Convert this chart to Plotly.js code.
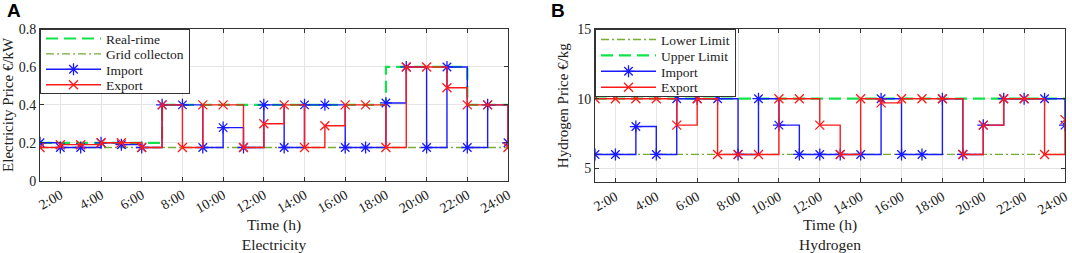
<!DOCTYPE html>
<html>
<head>
<meta charset="utf-8">
<script src="https://cdn.plot.ly/plotly-3.0.1.min.js"></script>
<style>
html,body{margin:0;padding:0;background:#fff;}
#chart{width:1072px;height:253px;}
</style>
</head>
<body>
<div id="chart"></div>
<script>
// ---- data ----
const hours = [1,2,3,4,5,6,7,8,9,10,11,12,13,14,15,16,17,18,19,20,21,22,23,24];
const tickHours = [2,4,6,8,10,12,14,16,18,20,22,24];
const tickLabels = ['2:00','4:00','6:00','8:00','10:00','12:00','14:00','16:00','18:00','20:00','22:00','24:00'];

// Electricity (A)
const elecRealTime = [0.2,0.2,0.2,0.2,0.2,0.2,0.4,0.4,0.4,0.4,0.4,0.4,0.4,0.4,0.4,0.4,0.4,0.6,0.6,0.6,0.6,0.4,0.4,0.4];
const elecGrid = [0.175,0.175,0.175,0.175,0.175,0.175,0.175,0.175,0.175,0.175,0.175,0.175,0.175,0.175,0.175,0.175,0.175,0.175,0.175,0.175,0.175,0.175,0.175,0.175];
const elecImport = [0.2,0.175,0.175,0.2,0.19,0.175,0.4,0.4,0.175,0.28,0.175,0.4,0.175,0.4,0.4,0.175,0.175,0.41,0.6,0.175,0.6,0.175,0.4,0.2];
const elecExport = [0.175,0.19,0.19,0.2,0.2,0.175,0.4,0.175,0.4,0.4,0.175,0.3,0.4,0.175,0.29,0.4,0.4,0.175,0.6,0.6,0.49,0.4,0.4,0.175];

// Hydrogen (B)
const h2Lower = [6,6,6,6,6,6,6,6,6,6,6,6,6,6,6,6,6,6,6,6,6,6,6,6];
const h2Upper = [10,10,10,10,10,10,10,10,10,10,10,10,10,10,10,10,10,10,10,10,10,10,10,10];
const h2Import = [6,6,8,6,10,10,10,6,10,8.1,6,6,6,6,10,6,6,10,6,8.1,10,10,10,8.1];
const h2Export = [10,10,10,10,8.1,10,6,6,6,10,10,8.1,6,10,9.7,10,10,10,6,8.1,10,10,6,8.5];

const legendA = ['Real-rime','Grid collecton','Import','Export'];
const legendB = ['Lower Limit','Upper Limit','Import','Export'];

// ---- styles ----
const cGreen = '#11e44a';
const cGreenDD = '#77ac30';
const cBlue = '#1a1aff';
const cRed = '#ff1a1a';
const W = 1072, H = 253;
const SERIF = 'Liberation Serif, Times New Roman, serif';

function dashed(x, y, name, xa, ya, lg){
  return {x, y, name, xaxis:xa, yaxis:ya, legend:lg, type:'scatter', mode:'lines',
    line:{shape:'hv', color:cGreen, width:2.2, dash:'12px,6px'}};
}
function dashdot(x, y, name, xa, ya, lg){
  return {x, y, name, xaxis:xa, yaxis:ya, legend:lg, type:'scatter', mode:'lines',
    line:{shape:'hv', color:cGreenDD, width:1.3, dash:'8px,3px,2px,3px'}};
}
function imp(x, y, name, xa, ya, lg){
  return {x, y, name, xaxis:xa, yaxis:ya, legend:lg, type:'scatter', mode:'lines+markers',
    line:{shape:'hv', color:cBlue, width:1.4},
    marker:{symbol:'asterisk-open', size:10, color:cBlue, line:{color:cBlue, width:1.3}}};
}
function exp(x, y, name, xa, ya, lg){
  return {x, y, name, xaxis:xa, yaxis:ya, legend:lg, type:'scatter', mode:'lines+markers',
    line:{shape:'hv', color:cRed, width:1.4},
    marker:{symbol:'x-thin-open', size:9, color:cRed, line:{color:cRed, width:1.3}}};
}

const data = [
  dashed(hours, elecRealTime, legendA[0], 'x', 'y', 'legend'),
  dashdot(hours, elecGrid, legendA[1], 'x', 'y', 'legend'),
  imp(hours, elecImport, legendA[2], 'x', 'y', 'legend'),
  exp(hours, elecExport, legendA[3], 'x', 'y', 'legend'),
  dashdot(hours, h2Lower, legendB[0], 'x2', 'y2', 'legend2'),
  dashed(hours, h2Upper, legendB[1], 'x2', 'y2', 'legend2'),
  imp(hours, h2Import, legendB[2], 'x2', 'y2', 'legend2'),
  exp(hours, h2Export, legendB[3], 'x2', 'y2', 'legend2')
];

const axisCommon = {
  showgrid:true, gridcolor:'#e4e4e4', gridwidth:1,
  showline:true, linecolor:'#333', linewidth:1, mirror:'ticks',
  ticks:'inside', ticklen:4, tickcolor:'#333', zeroline:false,
  tickfont:{family:SERIF, size:14, color:'#222'}
};

function xAx(domain, anchor, title){
  return Object.assign({}, axisCommon, {
    domain, anchor, range:[1,24], tickmode:'array', tickvals:tickHours, ticktext:tickLabels,
    tickangle:-30,
    title:{text:title, font:{family:SERIF, size:15.5, color:'#222'}, standoff:2}
  });
}

const layout = {
  width:W, height:H, margin:{l:0, r:0, t:0, b:0},
  paper_bgcolor:'#fff', plot_bgcolor:'#fff',
  font:{family:SERIF, size:14, color:'#222'},
  showlegend:true,
  xaxis: xAx([40/W, 508/W], 'y', 'Time (h)<br>Electricity'),
  yaxis: Object.assign({}, axisCommon, {
    domain:[1-180.7/H, 1-29/H], anchor:'x', range:[0,0.8], tickmode:'array',
    tickvals:[0,0.2,0.4,0.6,0.8], ticktext:['0','0.2','0.4','0.6','0.8'],
    title:{text:'Electricity Price €/kW', font:{family:SERIF, size:15, color:'#222'}, standoff:4}
  }),
  xaxis2: xAx([595/W, 1065/W], 'y2', 'Time (h)<br>Hydrogen'),
  yaxis2: Object.assign({}, axisCommon, {
    domain:[1-182.3/H, 1-29/H], anchor:'x2', range:[4,15], tickmode:'array',
    tickvals:[5,10,15], ticktext:['5','10','15'],
    title:{text:'Hydrogen Price €/kg', font:{family:SERIF, size:15, color:'#222'}, standoff:4}
  }),
  legend:{x:40/W, y:1-29/H, xanchor:'left', yanchor:'top', bgcolor:'#fff',
    bordercolor:'#333', borderwidth:1, itemwidth:55, tracegroupgap:0,
    font:{family:SERIF, size:13.5, color:'#222'}},
  legend2:{x:595/W, y:1-29/H, xanchor:'left', yanchor:'top', bgcolor:'#fff',
    bordercolor:'#333', borderwidth:1, itemwidth:55, tracegroupgap:0,
    font:{family:SERIF, size:13.5, color:'#222'}},
  annotations:[
    {text:'<b>A</b>', xref:'paper', yref:'paper', x:14/W, y:1-11/H, xanchor:'center', yanchor:'middle',
     showarrow:false, font:{family:'Liberation Sans', size:19, color:'#000'}},
    {text:'<b>B</b>', xref:'paper', yref:'paper', x:558/W, y:1-11/H, xanchor:'center', yanchor:'middle',
     showarrow:false, font:{family:'Liberation Sans', size:19, color:'#000'}}
  ]
};

// compact legend rows (MATLAB-style spacing)
const legendFit = {legend:{top:9.5, row:15.4, height:65}, legend2:{top:10.5, row:15.9, height:68}};

Plotly.newPlot('chart', data, layout, {displayModeBar:false, staticPlot:true}).then(function(gd){
  Object.keys(legendFit).forEach(function(id){
    const cfg = legendFit[id];
    const g = gd.querySelector('g.' + id);
    if(!g) return;
    g.querySelectorAll('g.traces').forEach(function(t, i){
      const m = /translate\(\s*([-\d.e]+)[ ,]+([-\d.e]+)\s*\)/.exec(t.getAttribute('transform') || '');
      const tx = m ? parseFloat(m[1]) : 0;
      t.setAttribute('transform', 'translate(' + tx + ',' + (cfg.top + i*cfg.row) + ')');
    });
    const bg = g.querySelector('rect.bg');
    if(bg) bg.setAttribute('height', cfg.height - 1);
    const sb = g.querySelector('.scrollbox');
    if(sb){
      const cp = sb.getAttribute('clip-path') || '';
      const mm = /url\(['"]?#([^'")]+)['"]?\)/.exec(cp);
      if(mm){
        const r = document.querySelector('[id="' + mm[1] + '"] rect');
        if(r) r.setAttribute('height', cfg.height);
      }
    }
  });
});
</script>
</body>
</html>
